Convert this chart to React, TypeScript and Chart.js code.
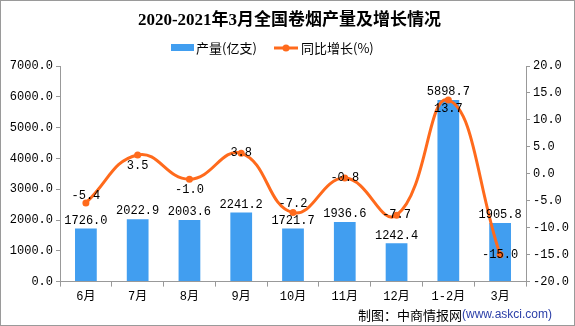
import React, { useEffect, useRef } from "react";
import { Chart, registerables } from "chart.js";

Chart.register(...registerables);

const categories = ["6月", "7月", "8月", "9月", "10月", "11月", "12月", "1-2月", "3月"];
const output = [1726.0, 2022.9, 2003.6, 2241.2, 1721.7, 1936.6, 1242.4, 5898.7, 1905.8];
const growth = [-5.4, 3.5, -1.0, 3.8, -7.2, -0.8, -7.7, 13.7, -15.0];
const title = "2020-2021年3月全国卷烟产量及增长情况";
const barLabel = "产量(亿支)";
const lineLabel = "同比增长(%)";

const BLUE = "#419EF0";
const ORANGE = "#FF6A1C";
const MONO = "'Liberation Mono', 'DejaVu Sans Mono', 'Noto Sans CJK SC', monospace";
const CJK = "'Noto Sans CJK SC', sans-serif";

const lineLabelShift = [-7, 11, 11, 0, -9, 0, 0, 9, 0];

const decor = {
  id: "decor",
  afterDatasetsDraw(chart: any) {
    const ctx = chart.ctx;
    ctx.save();
    const barMeta = chart.getDatasetMeta(0);
    ctx.font = "12px " + MONO;
    ctx.fillStyle = "#000";
    ctx.textAlign = "center";
    ctx.textBaseline = "bottom";
    barMeta.data.forEach((el: any, i: number) => {
      ctx.fillText(output[i].toFixed(1), el.x, el.y - 2);
    });
    const lineMeta = chart.getDatasetMeta(1);
    ctx.textBaseline = "middle";
    lineMeta.data.forEach((el: any, i: number) => {
      ctx.fillText(growth[i].toFixed(1), el.x, el.y + lineLabelShift[i]);
    });
    ctx.restore();
  },
  afterDraw(chart: any) {
    const ctx = chart.ctx;
    const w = chart.width;
    ctx.save();
    ctx.strokeStyle = "#9a9a9a";
    ctx.lineWidth = 1;
    ctx.strokeRect(0.5, 0.5, w - 1, chart.height - 1);
    ctx.fillStyle = "#000";
    ctx.font = "bold 17px 'Liberation Serif', " + CJK;
    ctx.textAlign = "center";
    ctx.textBaseline = "middle";
    ctx.fillText(title, w / 2 + 2, 21);
    ctx.font = "13px " + CJK;
    ctx.textAlign = "left";
    ctx.fillStyle = BLUE;
    ctx.fillRect(171, 44, 23, 7);
    ctx.fillStyle = "#000";
    ctx.fillText(barLabel, 196, 48);
    ctx.strokeStyle = ORANGE;
    ctx.lineWidth = 3;
    ctx.beginPath();
    ctx.moveTo(274, 48);
    ctx.lineTo(298, 48);
    ctx.stroke();
    ctx.fillStyle = ORANGE;
    ctx.beginPath();
    ctx.arc(286, 48, 3.5, 0, Math.PI * 2);
    ctx.fill();
    ctx.fillStyle = "#000";
    ctx.fillText(lineLabel, 301, 48);
    ctx.font = "13px " + CJK;
    const src1 = "制图：中商情报网";
    ctx.fillText(src1, 358, 315);
    const w1 = ctx.measureText(src1).width;
    ctx.fillStyle = "#2b3fa8";
    ctx.font = "12px 'Liberation Sans', sans-serif";
    ctx.fillText("(www.askci.com)", 358 + w1, 315);
    ctx.restore();
  },
};

export default function App() {
  const ref = useRef<HTMLCanvasElement>(null);
  useEffect(() => {
    document.body.style.margin = "0";
    const chart = new Chart(ref.current!, {
      type: "bar",
      data: {
        labels: categories,
        datasets: [
          {
            type: "bar",
            label: barLabel,
            data: output,
            backgroundColor: BLUE,
            yAxisID: "y",
            barPercentage: 0.42,
            categoryPercentage: 1,
            order: 2,
          },
          {
            type: "line",
            label: lineLabel,
            data: growth,
            borderColor: ORANGE,
            backgroundColor: ORANGE,
            borderWidth: 3,
            pointRadius: 3.5,
            pointBackgroundColor: ORANGE,
            pointBorderWidth: 0,
            tension: 0.45,
            yAxisID: "y1",
            order: 1,
          } as any,
        ],
      },
      options: {
        animation: false,
        responsive: false,
        devicePixelRatio: 1,
        layout: { padding: { top: 66, bottom: 19, left: 0, right: 0 } },
        plugins: { legend: { display: false }, tooltip: { enabled: false }, title: { display: false } },
        scales: {
          x: {
            offset: true,
            grid: { display: true, offset: true, drawOnChartArea: false, tickLength: 5, color: "#999" },
            border: { color: "#999" },
            ticks: { color: "#000", font: { family: MONO, size: 12 }, padding: 3 },
          },
          y: {
            position: "left",
            min: 0,
            max: 7000,
            afterFit: (s: any) => { s.width = 60; },
            grid: { drawOnChartArea: false, tickLength: 4, color: "#999" },
            border: { color: "#999" },
            ticks: { stepSize: 1000, color: "#000", font: { family: MONO, size: 12 }, padding: 3, callback: (v: any) => Number(v).toFixed(1) },
          },
          y1: {
            position: "right",
            min: -20,
            max: 20,
            afterFit: (s: any) => { s.width = 49; },
            grid: { drawOnChartArea: false, tickLength: 4, color: "#999" },
            border: { color: "#999" },
            ticks: { stepSize: 5, color: "#000", font: { family: MONO, size: 12 }, padding: 3, callback: (v: any) => Number(v).toFixed(1) },
          },
        },
      },
      plugins: [decor],
    });
    return () => chart.destroy();
  }, []);
  return <canvas ref={ref} width={575} height={326} style={{ display: "block" }} />;
}
